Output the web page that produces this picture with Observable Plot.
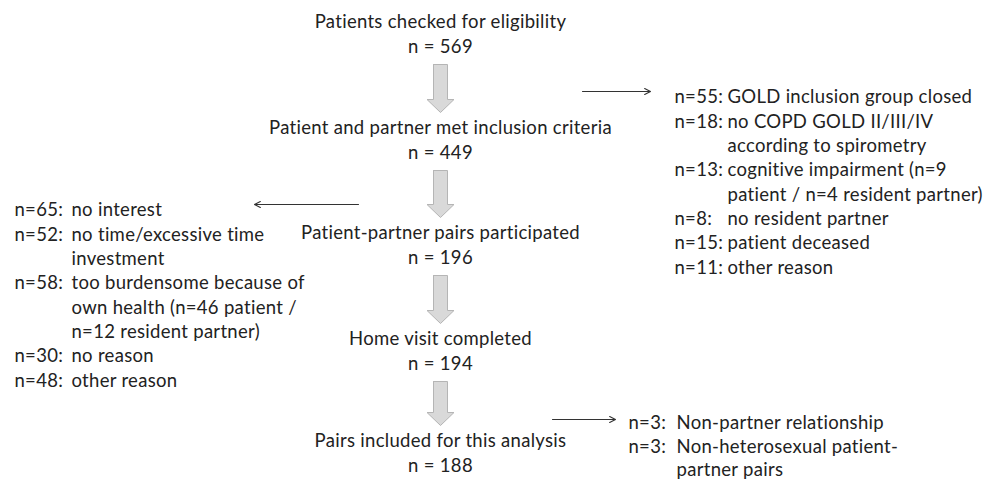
<!DOCTYPE html>
<html>
<head>
<meta charset="utf-8">
<script src="https://cdn.jsdelivr.net/npm/d3@7"></script>
<script src="https://cdn.jsdelivr.net/npm/@observablehq/plot@0.6"></script>
<style>
  body { margin: 0; background: #fff; }
  #chart svg { display: block; }
  #chart text { letter-spacing: 0.3px; }
</style>
</head>
<body>
<div id="chart"></div>
<script>
// ---- data ----
const stageLabels = [
  "Patients checked for eligibility",
  "Patient and partner met inclusion criteria",
  "Patient-partner pairs participated",
  "Home visit completed",
  "Pairs included for this analysis"
];
const stageCounts = [569, 449, 196, 194, 188];

// exclusions after stage 1 (right side)
const excl1Counts = [55, 18, 13, 8, 15, 11];
const excl1Reasons = [
  ["GOLD inclusion group closed"],
  ["no COPD GOLD II/III/IV", "according to spirometry"],
  ["cognitive impairment (n=9", "patient / n=4 resident partner)"],
  ["no resident partner"],
  ["patient deceased"],
  ["other reason"]
];

// non-participation after stage 2 (left side)
const excl2Counts = [65, 52, 58, 30, 48];
const excl2Reasons = [
  ["no interest"],
  ["no time/excessive time", "investment"],
  ["too burdensome because of", "own health (n=46 patient /", "n=12 resident partner)"],
  ["no reason"],
  ["other reason"]
];

// exclusions after stage 4 (right side)
const excl3Counts = [3, 3];
const excl3Reasons = [
  ["Non-partner relationship"],
  ["Non-heterosexual patient-", "partner pairs"]
];

// ---- layout (positions, not data) ----
const W = 994, H = 483;
const cx = 440;
const stageY = [22, 128, 233, 339, 441];
const nGap = 25;
const lists = [
  {counts: excl1Counts, reasons: excl1Reasons, nx: 674, tx: 727, y0: 97, lh: 24.3,
   arrow: {x1: 582, x2: 650, y: 91}},
  {counts: excl2Counts, reasons: excl2Reasons, nx: 14, tx: 71, y0: 210, lh: 24.3,
   arrow: {x1: 358, x2: 254, y: 204}},
  {counts: excl3Counts, reasons: excl3Reasons, nx: 628, tx: 676, y0: 423, lh: 23.3,
   arrow: {x1: 552, x2: 615, y: 419}}
];

// stage texts
const stageText = [];
stageLabels.forEach((s, i) => {
  stageText.push({x: cx, y: stageY[i], t: s});
  stageText.push({x: cx, y: stageY[i] + nGap, t: `n = ${stageCounts[i]}`});
});

// block arrows between stages
const arrowPts = [];
const shaftHW = 7, headHW = 13.5, headH = 13;
for (let i = 0; i < stageLabels.length - 1; i++) {
  const top = stageY[i] + nGap + 17;
  const bot = stageY[i + 1] - 16;
  const hs = bot - headH;
  const poly = [
    [cx - shaftHW, top], [cx + shaftHW, top], [cx + shaftHW, hs],
    [cx + headHW, hs], [cx, bot], [cx - headHW, hs], [cx - shaftHW, hs],
    [cx - shaftHW, top]
  ];
  poly.forEach(([x, y]) => arrowPts.push({id: i, x, y}));
}

// list texts
const listText = [];
const thinArrows = [];
lists.forEach(L => {
  let row = 0;
  L.counts.forEach((n, k) => {
    listText.push({x: L.nx, y: L.y0 + row * L.lh, t: `n=${n}:`});
    L.reasons[k].forEach((r, j) => {
      listText.push({x: L.tx, y: L.y0 + (row + j) * L.lh, t: r});
    });
    row += L.reasons[k].length;
  });
  thinArrows.push({x1: L.arrow.x1, x2: L.arrow.x2, y: L.arrow.y});
});

const font = "Lato, 'Open Sans', sans-serif";
const fs = 18.5;
const ink = "#222";

const chart = Plot.plot({
  width: W, height: H,
  margin: 0,
  x: {domain: [0, W], range: [0, W], axis: null},
  y: {domain: [0, H], range: [0, H], axis: null},
  style: {background: "#fff"},
  marks: [
    Plot.line(arrowPts, {x: "x", y: "y", z: "id", fill: "#d9d9d9", stroke: "#b5b5b5", strokeWidth: 1, curve: "linear"}),
    Plot.arrow(thinArrows, {x1: "x1", x2: "x2", y1: "y", y2: "y", stroke: "#333", strokeWidth: 1.1, headLength: 9, headAngle: 55}),
    Plot.text(stageText, {x: "x", y: "y", text: "t", textAnchor: "middle", fontSize: fs, fontFamily: font, fill: ink}),
    Plot.text(listText, {x: "x", y: "y", text: "t", textAnchor: "start", fontSize: fs, fontFamily: font, fill: ink})
  ]
});
document.getElementById("chart").append(chart);
</script>
</body>
</html>
